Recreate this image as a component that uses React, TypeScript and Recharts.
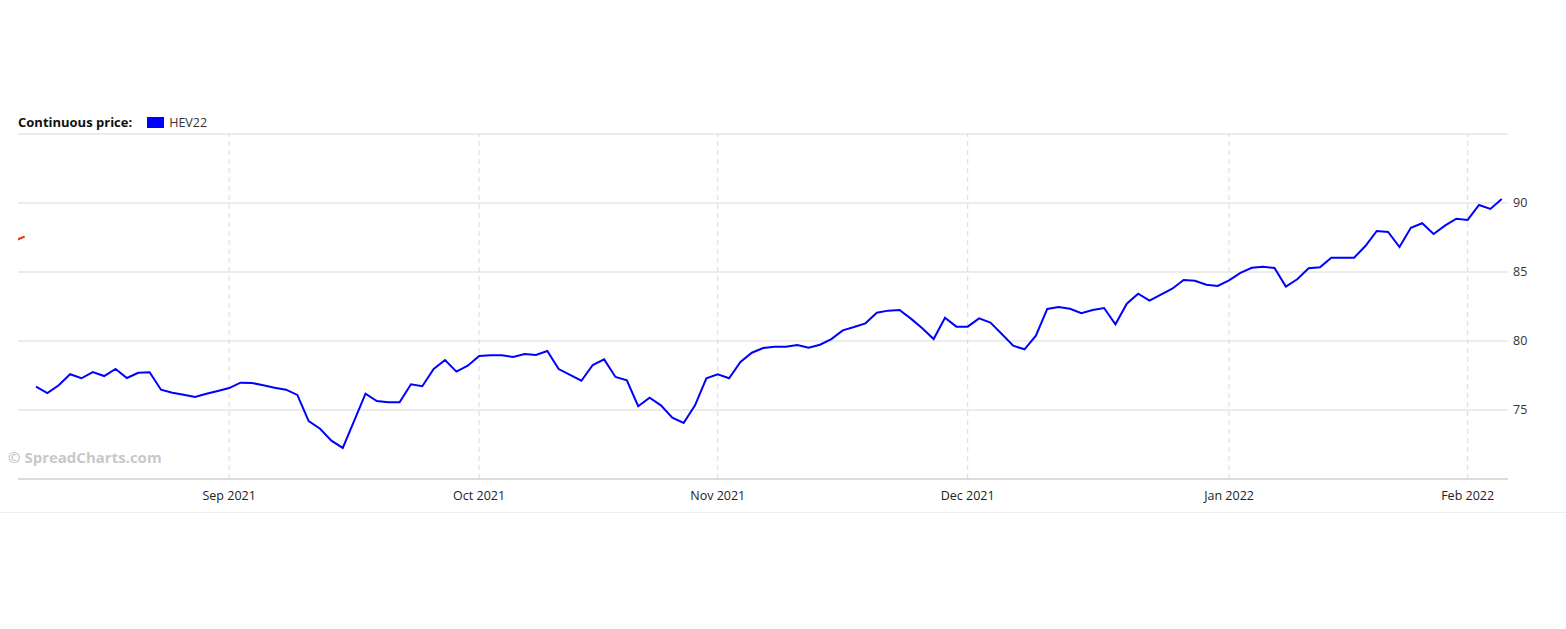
import React from 'react';
import { LineChart, Line, XAxis, YAxis, CartesianGrid, ReferenceLine } from 'recharts';

// Trading-day series of HEV22 (continuous price)
const hev22 = [
  76.69, 76.23, 76.79, 77.59, 77.30, 77.75, 77.46, 77.97, 77.32, 77.70,
  77.73, 76.47, 76.25, 76.11, 75.94, 76.18, 76.38, 76.59, 76.98, 76.96,
  76.79, 76.62, 76.47, 76.09, 74.20, 73.64, 72.78, 72.25, 74.22, 76.18,
  75.65, 75.56, 75.56, 76.86, 76.72, 77.97, 78.62, 77.78, 78.21, 78.91,
  78.96, 78.96, 78.84, 79.06, 78.99, 79.28, 77.97, 77.54, 77.12, 78.26,
  78.67, 77.39, 77.15, 75.27, 75.89, 75.34, 74.45, 74.06, 75.34, 77.30,
  77.59, 77.30, 78.48, 79.15, 79.49, 79.59, 79.59, 79.71, 79.51, 79.73,
  80.14, 80.77, 81.01, 81.28, 82.05, 82.20, 82.25, 81.62, 80.92, 80.14,
  81.69, 81.04, 81.04, 81.64, 81.33, 80.51, 79.66, 79.40, 80.38, 82.32,
  82.46, 82.34, 82.01, 82.25, 82.39, 81.21, 82.70, 83.43, 82.92, 83.36,
  83.79, 84.42, 84.37, 84.08, 83.99, 84.40, 84.93, 85.31, 85.38, 85.29,
  83.94, 84.47, 85.27, 85.34, 86.04, 86.04, 86.04, 86.88, 87.97, 87.90,
  86.81, 88.21, 88.53, 87.75, 88.36, 88.86, 88.77, 89.86, 89.57, 90.29,
];

// Previous contract tail (mostly outside the visible window)
const prevContractIdx = [-2, -1];
const prevContract = [87.21, 87.57];

const monthTickIdx = [17, 39, 60, 82, 105, 126];
const monthLabels = ['Sep 2021', 'Oct 2021', 'Nov 2021', 'Dec 2021', 'Jan 2022', 'Feb 2022'];
const yTicks = [70, 75, 80, 85, 90, 95];
const yLabeled = [75, 80, 85, 90];

const blueData = hev22.map((v, i) => ({ i, v }));
const redData = prevContract.map((v, k) => ({ i: prevContractIdx[k], v }));

const FONT = "'Open Sans', 'Noto Sans', sans-serif";

const XTick = (props: any) => {
  const { x, payload } = props;
  const k = monthTickIdx.indexOf(payload.value);
  return (
    <text x={x} y={500} textAnchor="middle" fontFamily={FONT} fontSize={12.5} fill="#222">
      {k >= 0 ? monthLabels[k] : ''}
    </text>
  );
};

const YTick = (props: any) => {
  const { y, payload } = props;
  if (!yLabeled.includes(payload.value)) return null;
  return (
    <text x={1513} y={y} dy="0.35em" textAnchor="start" fontFamily={FONT} fontSize={12.5} fill="#333">
      {payload.value}
    </text>
  );
};

export default function App() {
  return (
    <div style={{ position: 'absolute', left: 0, top: 0, width: 1566, height: 629, background: '#fff', overflow: 'hidden' }}>
      <div style={{ position: 'absolute', left: 18, top: 113, display: 'flex', alignItems: 'center', fontFamily: FONT }}>
        <span style={{ fontWeight: 700, color: '#111', fontSize: 13 }}>Continuous price:</span>
        <span style={{ display: 'inline-block', width: 17, height: 11, background: '#0000ff', marginLeft: 15 }} />
        <span style={{ marginLeft: 5, color: '#333', fontSize: 12.5 }}>HEV22</span>
      </div>
      <LineChart width={1566} height={629} margin={{ top: 134, right: 0, bottom: 120, left: 18 }} style={{ position: 'absolute', left: 0, top: 0 }}>
        <CartesianGrid vertical={false} stroke="#d9d9d9" />
        {monthTickIdx.map((t) => (
          <ReferenceLine key={t} x={t} stroke="#d9d9d9" strokeDasharray="5 4" />
        ))}
        <XAxis
          type="number"
          dataKey="i"
          domain={[-1.584, 129.55]}
          allowDataOverflow
          ticks={monthTickIdx}
          interval={0}
          tick={<XTick />}
          tickLine={false}
          axisLine={{ stroke: '#cccccc' }}
          height={30}
        />
        <YAxis
          orientation="right"
          type="number"
          domain={[70, 95]}
          ticks={yTicks}
          interval={0}
          allowDataOverflow
          tick={<YTick />}
          tickLine={false}
          axisLine={false}
          tickSize={0}
          width={58}
        />
        <Line data={redData} dataKey="v" type="linear" stroke="#e8380d" strokeWidth={2} dot={false} isAnimationActive={false} />
        <Line data={blueData} dataKey="v" type="linear" stroke="#0000ff" strokeWidth={2} dot={false} isAnimationActive={false} />
      </LineChart>
      <div style={{ position: 'absolute', left: 8, top: 447, fontFamily: FONT, fontWeight: 700, fontSize: 15, color: '#c8c8c8' }}>
        © SpreadCharts.com
      </div>
      <div style={{ position: 'absolute', left: 0, top: 512, width: 1566, height: 1, background: '#eeeeee' }} />
    </div>
  );
}
